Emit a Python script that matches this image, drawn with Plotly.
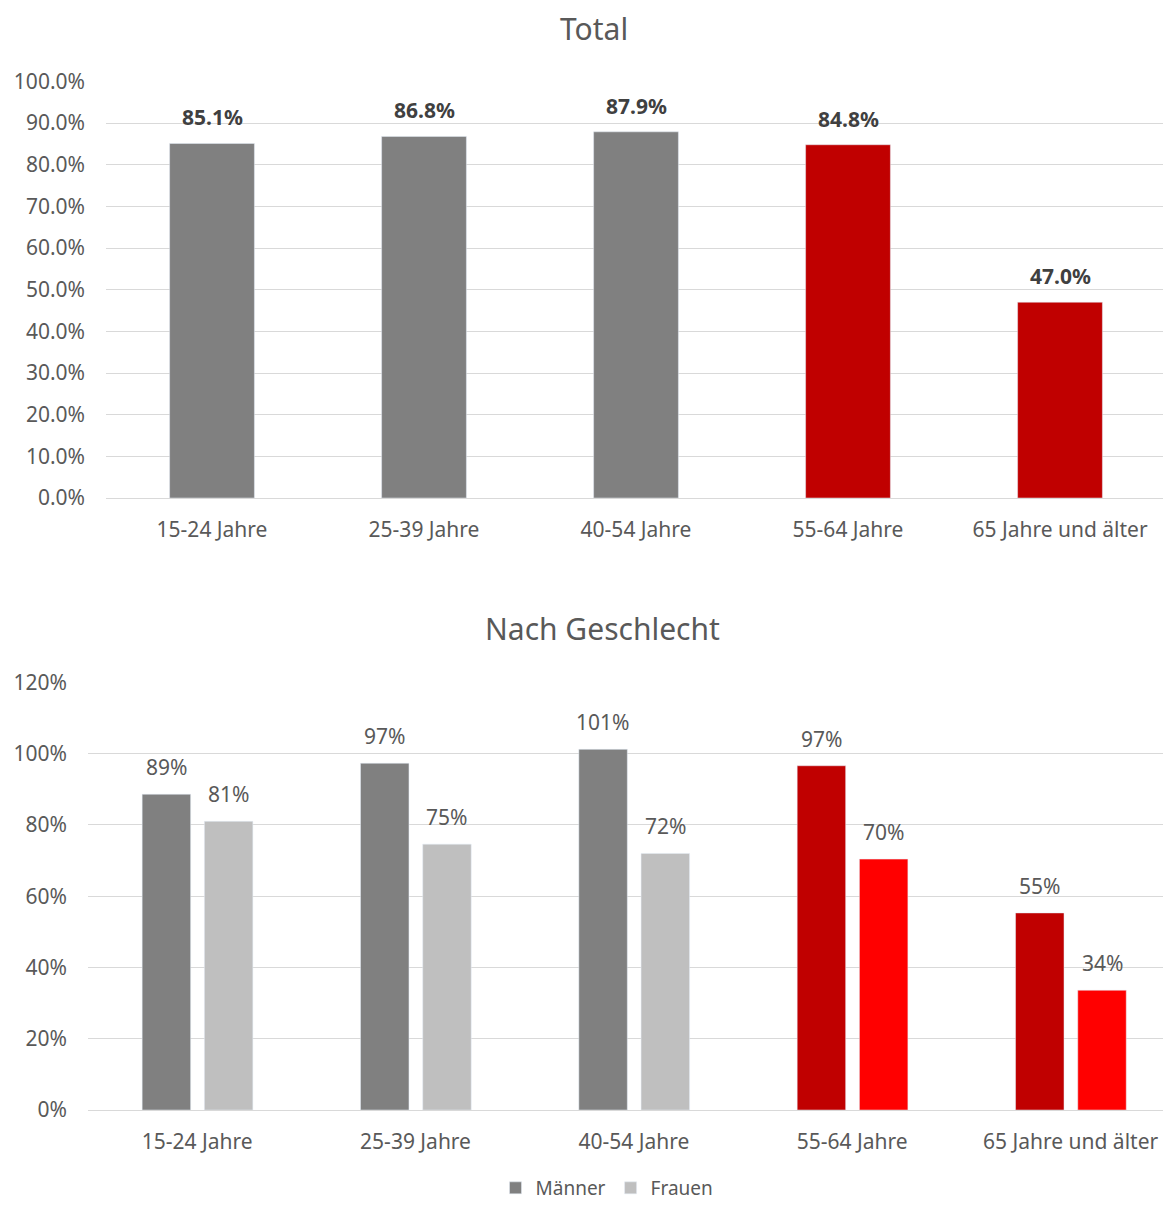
import plotly.graph_objects as go

categories = ["15-24 Jahre", "25-39 Jahre", "40-54 Jahre", "55-64 Jahre", "65 Jahre und älter"]
total_values = [0.851, 0.868, 0.879, 0.848, 0.470]
maenner_values = [0.886, 0.973, 1.012, 0.966, 0.553]
frauen_values = [0.81, 0.746, 0.72, 0.704, 0.336]

total_colors = ["#808080", "#808080", "#808080", "#C00000", "#C00000"]
maenner_colors = ["#808080", "#808080", "#808080", "#C00000", "#C00000"]
frauen_colors = ["#BFBFBF", "#BFBFBF", "#BFBFBF", "#FF0000", "#FF0000"]

FONT = "Noto Sans"
OFF = 8  # page body margin
W, H = 1171 - OFF, 1207 - OFF

def py(p):
    return 1 - (p - OFF) / H

def px(p):
    return (p - OFF) / W

fig = go.Figure()

TOTAL_W = 0.4
BAR_W = 0.222
M_OFF = -0.252
F_OFF = 0.033

fig.add_trace(go.Bar(
    x=categories, y=total_values, marker_color=total_colors, width=TOTAL_W,
    showlegend=False, xaxis="x", yaxis="y", hoverinfo="x+y",
))
fig.add_trace(go.Bar(
    x=categories, y=maenner_values, name="Männer", marker_color=maenner_colors,
    width=BAR_W, offset=M_OFF, xaxis="x2", yaxis="y2",
))
fig.add_trace(go.Bar(
    x=categories, y=frauen_values, name="Frauen", marker_color=frauen_colors,
    width=BAR_W, offset=F_OFF, xaxis="x2", yaxis="y2",
))

annotations = []
for i, (c, v) in enumerate(zip(categories, total_values)):
    annotations.append(dict(
        x=i, y=v, xref="x", yref="y", text=f"{v*100:.1f}%", showarrow=False,
        yanchor="middle", yshift=26,
        font=dict(family=FONT, size=21, color="#404040", weight="bold")))
for i, v in enumerate(maenner_values):
    annotations.append(dict(
        x=i + M_OFF + BAR_W / 2, y=v, xref="x2", yref="y2", text=f"{round(v*100)}%",
        showarrow=False, yanchor="middle", yshift=27,
        font=dict(family=FONT, size=21, color="#595959")))
for i, v in enumerate(frauen_values):
    annotations.append(dict(
        x=i + F_OFF + BAR_W / 2, y=v, xref="x2", yref="y2", text=f"{round(v*100)}%",
        showarrow=False, yanchor="middle", yshift=27,
        font=dict(family=FONT, size=21, color="#595959")))

annotations += [
    dict(text="Total", x=px(594), y=py(28), xref="paper", yref="paper",
         showarrow=False, font=dict(family=FONT, size=30, color="#595959"),
         xanchor="center", yanchor="middle"),
    dict(text="Nach Geschlecht", x=px(602), y=py(628), xref="paper", yref="paper",
         showarrow=False, font=dict(family=FONT, size=30, color="#595959"),
         xanchor="center", yanchor="middle"),
]

axis_font = dict(family=FONT, size=21, color="#595959")

fig.update_layout(
    width=W, height=H, autosize=False,
    margin=dict(l=0, r=0, t=0, b=0, autoexpand=False),
    paper_bgcolor="white", plot_bgcolor="white",
    barmode="overlay",
    font=dict(family=FONT, color="#595959"),
    xaxis=dict(domain=[px(106), px(1166)], anchor="y", showgrid=False, automargin=False,
               showline=True, linecolor="#D9D9D9", linewidth=1,
               tickfont=axis_font, ticks="", ticklabelstandoff=13),
    yaxis=dict(domain=[py(498), py(81)], anchor="x", range=[0, 1.001], automargin=False,
               tickvals=[i / 10 for i in range(11)], tickformat=".1%",
               showgrid=True, gridcolor="#D9D9D9", gridwidth=1,
               zeroline=False, showline=False, tickfont=axis_font,
               ticklabelstandoff=20),
    xaxis2=dict(domain=[px(88), px(1171)], anchor="y2", showgrid=False, automargin=False,
                range=[-0.5, 4.46],
                showline=True, linecolor="#D9D9D9", linewidth=1,
                tickfont=axis_font, ticks="", ticklabelstandoff=13),
    yaxis2=dict(domain=[py(1110), py(682)], anchor="x2", range=[0, 1.201], automargin=False,
                tickvals=[i / 5 for i in range(7)], tickformat=".0%",
                showgrid=True, gridcolor="#D9D9D9", gridwidth=1,
                zeroline=False, showline=False, tickfont=axis_font,
                ticklabelstandoff=20),
    legend=dict(orientation="h", x=px(607), xanchor="center", y=0, yanchor="bottom",
                font=dict(family=FONT, size=19, color="#595959"),
                itemwidth=30, traceorder="normal"),
    annotations=annotations,
)

fig.write_html("out.html")
